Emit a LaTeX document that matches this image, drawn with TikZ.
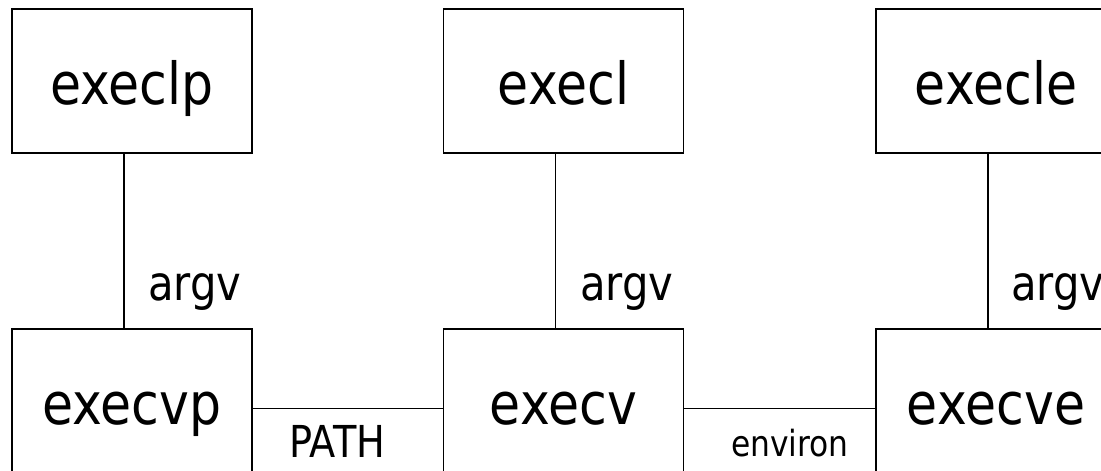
\documentclass[tikz,border=0pt]{standalone}
\usepackage{fontspec}
\setmainfont{DejaVu Sans}[FakeStretch=0.87]
\begin{document}
\begin{tikzpicture}[x=1pt,y=-1pt,
  fnbox/.style={draw,line width=1.5pt,minimum width=240pt,minimum height=144pt,inner sep=0pt,
    font=\fontsize{58}{60}\selectfont,text height=46pt,text depth=0pt},
  conn/.style={line width=1.5pt},
  lbl/.style={anchor=base west,inner sep=0pt}]
\useasboundingbox (0,0) rectangle (1101,471);
\node[fnbox] (execlp) at (132,81) {execlp};
\node[fnbox] (execl) at (563.5,81) {execl};
\node[fnbox] (execle) at (996,81) {execle};
\node[fnbox] (execvp) at (132,401) {execvp};
\node[fnbox] (execv) at (563.5,401) {execv};
\node[fnbox] (execve) at (996,401) {execve};
\draw[conn] ([xshift=-8pt]execlp.south) -- ([xshift=-8pt]execvp.north);
\draw[conn] ([xshift=-8pt]execl.south) -- ([xshift=-8pt]execv.north);
\draw[conn] ([xshift=-8pt]execle.south) -- ([xshift=-8pt]execve.north);
\draw[conn] ([yshift=-7.5pt]execvp.east) -- ([yshift=-7.5pt]execv.west);
\draw[conn] ([yshift=-7.5pt]execv.east) -- ([yshift=-7.5pt]execve.west);
\node[lbl,font=\fontsize{48}{50}\selectfont] (a1) at (148,300) {argv};
\node[lbl,font=\fontsize{48}{50}\selectfont] (a2) at (580,300) {argv};
\node[lbl,font=\fontsize{48}{50}\selectfont] (a3) at (1011,300) {argv};
\node[lbl,font=\fontsize{44}{46}\selectfont] (path) at (289,457) {PATH};
\node[lbl,font=\fontsize{36}{38}\selectfont] (env) at (731,456) {environ};
\end{tikzpicture}
\end{document}
